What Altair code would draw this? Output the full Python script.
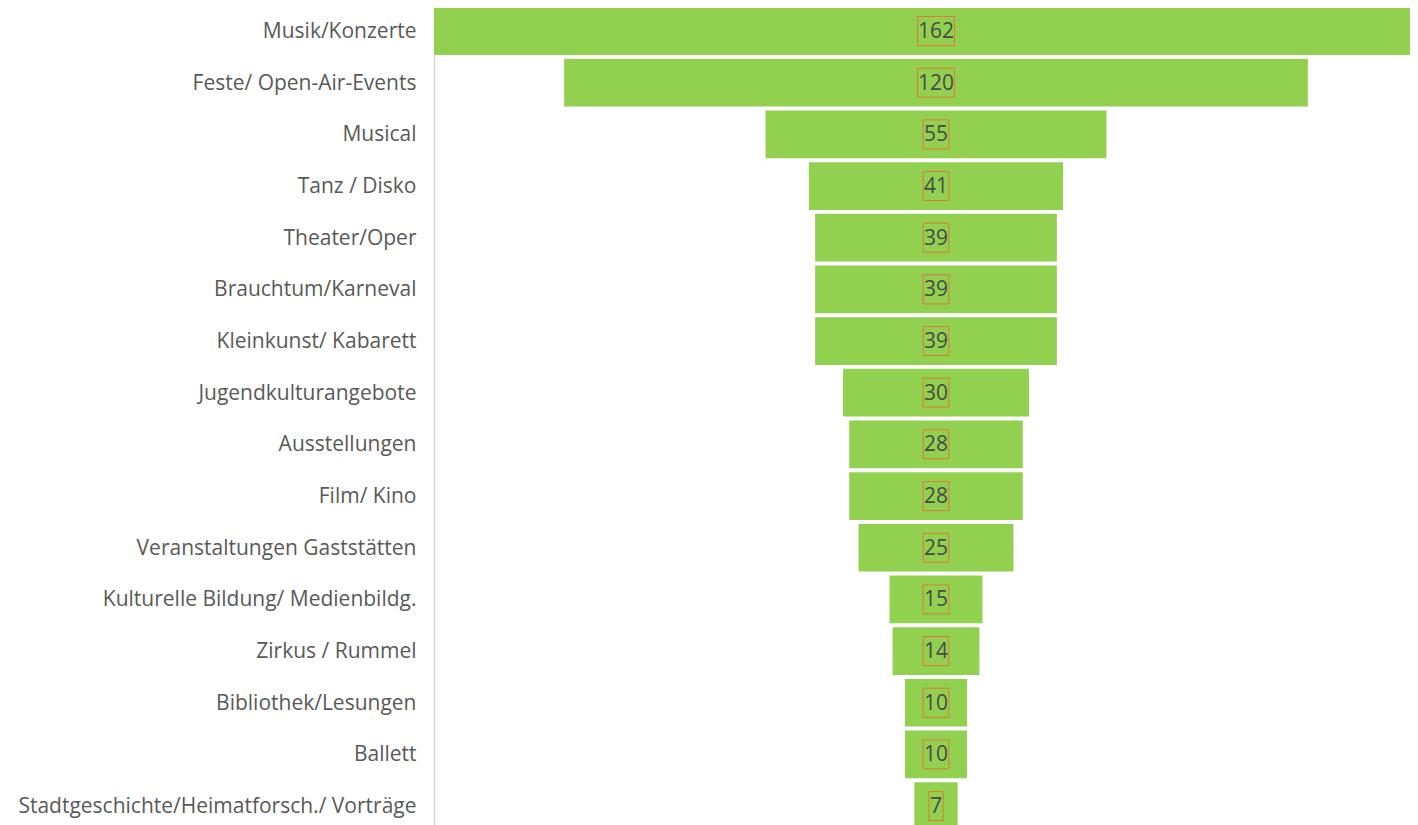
import altair as alt
import pandas as pd

categories = [
    "Musik/Konzerte",
    "Feste/ Open-Air-Events",
    "Musical",
    "Tanz / Disko",
    "Theater/Oper",
    "Brauchtum/Karneval",
    "Kleinkunst/ Kabarett",
    "Jugendkulturangebote",
    "Ausstellungen",
    "Film/ Kino",
    "Veranstaltungen Gaststätten",
    "Kulturelle Bildung/ Medienbildg.",
    "Zirkus / Rummel",
    "Bibliothek/Lesungen",
    "Ballett",
    "Stadtgeschichte/Heimatforsch./ Vorträge",
]
values = [162, 120, 55, 41, 39, 39, 39, 30, 28, 28, 25, 15, 14, 10, 10, 7]

df = pd.DataFrame({"cat": categories, "val": values})
df["label"] = df["val"].astype(str)

PX_PER_UNIT = 1004 / 162.0
df["x0"] = -df["val"] / 2
df["x1"] = df["val"] / 2
box_half = (df["label"].str.len() * 11.3 + 3) / 2 / PX_PER_UNIT
df["bx0"] = -box_half
df["bx1"] = box_half

FONT = "Open Sans"

y_enc = alt.Y(
    "cat:N",
    sort=categories,
    scale=alt.Scale(range=[-2.8, 823.9], paddingInner=0.077, paddingOuter=0.0385),
    axis=alt.Axis(
        title=None,
        ticks=False,
        labelFont=FONT,
        labelFontSize=21,
        labelColor="#595959",
        labelPadding=18,
        labelLimit=600,
        labelOffset=1,
        domainColor="#d9d9d9",
        domainWidth=1.5,
        minExtent=426,
        maxExtent=426,
        grid=False,
    ),
)
x_scale = alt.Scale(domain=[-81, 81], range=[0, 1004], nice=False, zero=False)

bars = alt.Chart(df).mark_bar(color="#92D050", clip=True).encode(
    y=y_enc,
    x=alt.X("x0:Q", scale=x_scale, axis=None),
    x2="x1:Q",
)

boxes = alt.Chart(df).mark_bar(
    fillOpacity=0, fill="white", stroke="#E07A3A", strokeWidth=1, height=29
).encode(
    y=alt.Y("cat:N", sort=categories),
    x=alt.X("bx0:Q", scale=x_scale, axis=None),
    x2="bx1:Q",
)

texts = alt.Chart(df).mark_text(
    font=FONT, fontSize=21, color="#4a4a4a", align="center", baseline="middle", dy=1
).encode(
    y=alt.Y("cat:N", sort=categories),
    x=alt.value(502),
    text="label:N",
)

chart = (
    alt.layer(bars, boxes, texts)
    .properties(width=976, height=817, padding={"left": 0, "top": 0, "right": 0, "bottom": 0})
    .configure_view(stroke=None)
    .configure(background="white")
)

chart.save("out.html", embed_options={"renderer": "svg", "actions": False})
